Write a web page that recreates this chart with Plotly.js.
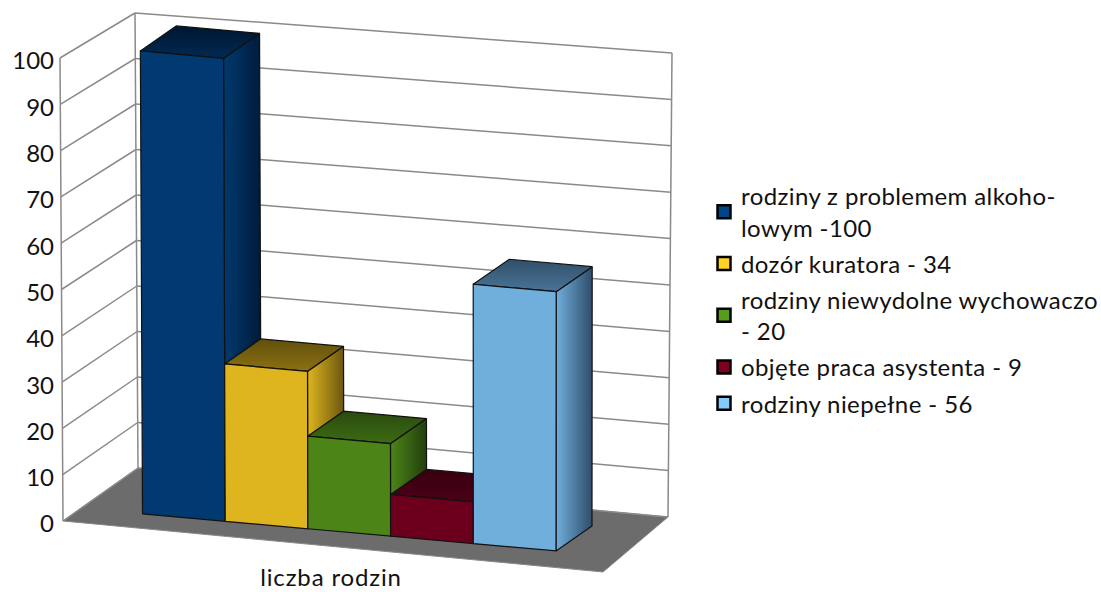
<!DOCTYPE html>
<html>
<head>
<meta charset="utf-8">
<script src="https://cdn.plot.ly/plotly-3.0.1.min.js"></script>
<style>
html,body{margin:0;padding:0;background:#fff}#chart{width:1101px;height:592px}
.legendtext{letter-spacing:.4px;transform:translateX(-3px)}
.xtick text{letter-spacing:.85px}
</style>
</head>
<body>
<div id="chart"></div>
<script>
// ---- data ----
const categoryLabel = 'liczba rodzin';
const seriesNames = [
  'rodziny z problemem alkoho-<br>lowym -100',
  'dozór kuratora - 34',
  'rodziny niewydolne wychowaczo<br>- 20',
  'objęte praca asystenta - 9',
  'rodziny niepełne - 56'
];
const seriesValues = [100, 34, 20, 9, 56];
const valueTicks = [0, 10, 20, 30, 40, 50, 60, 70, 80, 90, 100];

// ---- colours ----
const legendColors = ['#004586', '#ffd320', '#579d1c', '#7e0021', '#83caff'];
const frontColors  = ['#003a70', '#deb51f', '#4c8418', '#6c001c', '#70aedc'];
const sideColors   = [['#003a70','#001a38'], ['#deb51f','#6a560f'], ['#4c8418','#223f0e'], ['#6c001c','#300010'], ['#70aedc','#2f4d69']];
const topColors    = [['#00162f','#012a52'], ['#614f0c','#8c7112'], ['#2a4a0e','#3c6c14'], ['#380010','#4c0017'], ['#314f69','#4a7497']];

// ---- oblique view of the 3D box ----
const PX = 4.63, H = 592;
const pxToUnits = py => (521 - py) / PX;          // page row -> value-axis units
function wall(cornerX, cornerY, v, lean, scale) { // point on a wall corner at value v
  return [cornerX + lean * v / 100, pxToUnits(cornerY - scale * v)];
}
const frontLeft  = v => wall(63, 521, v, -3, 4.63);
const backLeft   = v => wall(138, 468, v, -3, 4.55);
const backRight  = v => wall(668, 517, v, 4, 4.64);
const frontRight = [603, pxToUnits(572)];

function barPoint(slot, depth, v) {
  const x0 = 142.5 + 82.7 * slot;
  const floorY = 514 + (x0 - 143) * 0.0894 - 25 * depth;
  const x = x0 + 36 * depth + (x0 - 500) * 0.006 * v / 100;
  return [x, pxToUnits(floorY) + v];
}

const traces = [];
function poly(points, extra) {
  const closed = points.concat([points[0]]);
  traces.push(Object.assign({
    type: 'scatter', mode: 'lines', x: closed.map(p => p[0]), y: closed.map(p => p[1]),
    fill: 'toself', showlegend: false, hoverinfo: 'skip',
    line: {color: '#111', width: 1.2}
  }, extra));
}
function seg(a, b) {
  traces.push({type: 'scatter', mode: 'lines', x: [a[0], b[0]], y: [a[1], b[1]], showlegend: false,
    hoverinfo: 'skip', line: {color: '#8a8a8a', width: 1.5}});
}

// floor
poly([frontLeft(0), backLeft(0), backRight(0), frontRight],
     {fillcolor: '#6c6c6c', line: {color: '#8a8a8a', width: 1}});
// walls and grid
valueTicks.forEach(v => { seg(frontLeft(v), backLeft(v)); seg(backLeft(v), backRight(v)); });
seg(frontLeft(0), frontLeft(100));
seg(backLeft(0), backLeft(100));
seg(backRight(0), backRight(100));

// bars, left to right
seriesValues.forEach((val, i) => {
  poly([barPoint(i + 1, 0, 0), barPoint(i + 1, 1, 0), barPoint(i + 1, 1, val), barPoint(i + 1, 0, val)],
       {fillgradient: {type: 'horizontal', colorscale: [[0, sideColors[i][0]], [1, sideColors[i][1]]]}});
  poly([barPoint(i, 0, val), barPoint(i + 1, 0, val), barPoint(i + 1, 1, val), barPoint(i, 1, val)],
       {fillgradient: {type: 'vertical', colorscale: [[0, topColors[i][1]], [1, topColors[i][0]]]}});
  poly([barPoint(i, 0, 0), barPoint(i + 1, 0, 0), barPoint(i + 1, 0, val), barPoint(i, 0, val)],
       {fillcolor: frontColors[i]});
});

// legend entries
seriesNames.forEach((name, i) => {
  traces.push({type: 'scatter', mode: 'markers', x: [null], y: [null], name: name,
    legendgroup: 'g' + i,
    marker: {symbol: 'square', size: 13, color: legendColors[i], line: {color: '#000', width: 2.5}}});
});

const font = 'Lato, Carlito, "Open Sans", sans-serif';
const layout = {
  width: 1101, height: H, paper_bgcolor: '#fff', plot_bgcolor: 'rgba(0,0,0,0)',
  margin: {l: 0, r: 0, t: 0, b: 0, autoexpand: false},
  font: {family: font, color: '#111', size: 22},
  hovermode: false,
  xaxis: {range: [0, 1101], domain: [0, 1], anchor: 'free', position: 0.052, showgrid: false, zeroline: false,
          showline: false, tickmode: 'array', tickvals: [331], ticktext: [categoryLabel],
          ticks: '', tickfont: {size: 24, family: font}, fixedrange: true},
  yaxis: {range: [pxToUnits(H), pxToUnits(0)], domain: [0, 1], anchor: 'free', position: 54 / 1101,
          showgrid: false, zeroline: false, showline: false, tickmode: 'array', tickvals: valueTicks,
          ticktext: valueTicks.map(String), ticks: '', ticklabelshift: 3, tickfont: {size: 24, family: font}, fixedrange: true},
  legend: {x: 704 / 1101, xanchor: 'left', y: 1 - 174 / H, yanchor: 'top', bgcolor: 'rgba(0,0,0,0)',
           font: {size: 24, family: font, color: '#111'}, tracegroupgap: 2, traceorder: 'grouped', itemclick: false, itemdoubleclick: false}
};
Plotly.newPlot('chart', traces, layout, {displayModeBar: false, responsive: false, staticPlot: true});
</script>
</body>
</html>
